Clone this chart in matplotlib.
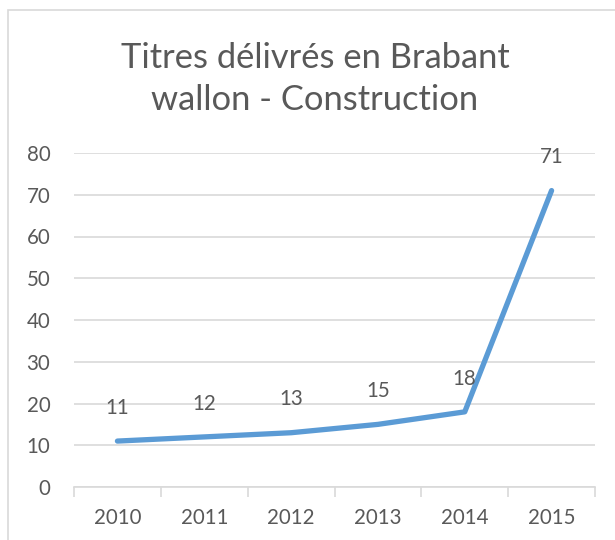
import numpy as np
from matplotlib import pyplot as plt
from matplotlib.patches import Rectangle

years = ['2010', '2011', '2012', '2013', '2014', '2015']
titres = [11, 12, 13, 15, 18, 71]
y_ticks = [0, 10, 20, 30, 40, 50, 60, 70, 80]

text_col = '#595959'
line_col = '#5B9BD5'
grid_col = '#D9D9D9'

plt.rcParams['font.family'] = ['Lato', 'DejaVu Sans']

fig = plt.figure(figsize=(6.15, 5.4), dpi=100)
# chart outline (right and bottom edges fall outside the picture)
fig.patches.append(Rectangle((8 / 615, -0.05), 1.2, 1 - 10 / 540 + 0.05, transform=fig.transFigure,
                             fill=False, edgecolor=grid_col, linewidth=1.2))

ax = fig.add_axes([74 / 615, 1 - 487 / 540, 521 / 615, 334 / 540])
X = np.arange(len(years))
ax.plot(X, titres, color=line_col, linewidth=3.8, solid_capstyle='round', solid_joinstyle='round', zorder=3)
for x, v in zip(X, titres):
    ax.annotate(str(v), (x, v), xytext=(0, 24), textcoords='offset points', ha='center', va='center',
                fontsize=14.8, color=text_col)

ax.set_xlim(-0.5, len(years) - 0.5)
ax.set_ylim(0, 80)
ax.set_yticks(y_ticks)
ax.set_yticklabels([str(t) for t in y_ticks])
ax.set_xticks(X)
ax.set_xticklabels(years)
ax.set_xticks(np.arange(len(years) + 1) - 0.5, minor=True)
ax.tick_params(axis='x', which='major', length=0, pad=15, labelsize=14.8, labelcolor=text_col)
ax.tick_params(axis='x', which='minor', length=7, color=grid_col, width=1.2)
ax.tick_params(axis='y', length=0, pad=17, labelsize=14.8, labelcolor=text_col)

ax.grid(axis='y', color=grid_col, linewidth=1.2)
ax.set_axisbelow(True)
for s in ['top', 'right', 'left']:
    ax.spines[s].set_visible(False)
ax.spines['bottom'].set_color(grid_col)
ax.spines['bottom'].set_linewidth(1.2)

fig.text(0.512, 1 - 79 / 540, 'Titres délivrés en Brabant\nwallon - Construction', ha='center', va='center',
         fontsize=24.8, color=text_col, linespacing=1.4)

plt.savefig('out.png', dpi=100)
